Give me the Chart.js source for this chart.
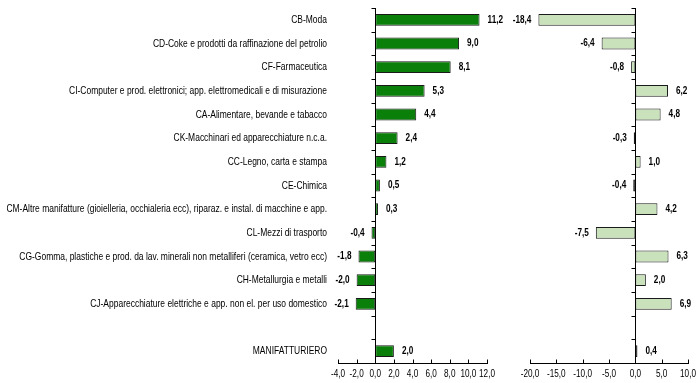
<!DOCTYPE html>
<html><head><meta charset="utf-8">
<script src="https://cdn.jsdelivr.net/npm/chart.js@4/dist/chart.umd.min.js"></script>
<style>
html,body{margin:0;padding:0;background:#fff;}
#wrap{position:relative;width:700px;height:383px;overflow:hidden;}
#c1{position:absolute;left:0;top:0;width:520px;height:383px;}
#c2{position:absolute;left:500px;top:0;width:200px;height:383px;}
</style></head><body>
<div id="wrap"><canvas id="c1" width="520" height="383"></canvas><canvas id="c2" width="200" height="383"></canvas></div>
<script>
const categories = [
  "CB-Moda",
  "CD-Coke e prodotti da raffinazione del petrolio",
  "CF-Farmaceutica",
  "CI-Computer e prod. elettronici; app. elettromedicali e di misurazione",
  "CA-Alimentare, bevande e tabacco",
  "CK-Macchinari ed apparecchiature n.c.a.",
  "CC-Legno, carta e stampa",
  "CE-Chimica",
  "CM-Altre manifatture (gioielleria, occhialeria ecc), riparaz. e instal. di macchine e app.",
  "CL-Mezzi di trasporto",
  "CG-Gomma, plastiche e prod. da lav. minerali non metalliferi (ceramica, vetro ecc)",
  "CH-Metallurgia e metalli",
  "CJ-Apparecchiature elettriche e app. non el. per uso domestico",
  "",
  "MANIFATTURIERO"
];
const valuesLeft = [11.2, 9.0, 8.1, 5.3, 4.4, 2.4, 1.2, 0.5, 0.3, -0.4, -1.8, -2.0, -2.1, null, 2.0];
const valuesRight = [-18.4, -6.4, -0.8, 6.2, 4.8, -0.3, 1.0, -0.4, 4.2, -7.5, 6.3, 2.0, 6.9, null, 0.4];
const ticksLeft = [-4, -2, 0, 2, 4, 6, 8, 10, 12];
const ticksRight = [-20, -15, -10, -5, 0, 5, 10];

const FONT = "'Liberation Sans', Arial, sans-serif";
const fmt = v => v.toFixed(1).replace('.', ',');

function narrowText(ctx, text, x, y, align, font, sx) {
  ctx.save();
  ctx.font = font;
  ctx.textBaseline = 'middle';
  ctx.textAlign = align;
  ctx.translate(x, y);
  ctx.scale(sx, 1);
  ctx.fillText(text, 0, 0);
  ctx.restore();
}

const axisPlugin = {
  id: 'axisPlugin',
  afterDatasetsDraw(chart, args, opts) {
    const {ctx, chartArea, scales} = chart;
    const x = scales.x, y = scales.y;
    const x0 = Math.round(x.getPixelForValue(0)) + 0.5;
    const n = chart.data.labels.length;
    const half = (y.getPixelForValue(1) - y.getPixelForValue(0)) / 2;
    ctx.save();
    ctx.strokeStyle = '#000';
    ctx.lineWidth = 1;
    ctx.beginPath();
    ctx.moveTo(x0, chartArea.top);
    ctx.lineTo(x0, chartArea.bottom);
    for (let i = 0; i <= n; i++) {
      const py = Math.round(y.getPixelForValue(i) - half) + 0.5;
      ctx.moveTo(x0 - 4, py);
      ctx.lineTo(x0, py);
    }
    const yb = Math.round(chartArea.bottom) + 0.5;
    ctx.moveTo(Math.round(x.getPixelForValue(x.min)), yb);
    ctx.lineTo(Math.round(x.getPixelForValue(x.max)) + 1, yb);
    x.ticks.forEach(t => {
      const px = Math.round(x.getPixelForValue(t.value)) + 0.5;
      ctx.moveTo(px, yb);
      ctx.lineTo(px, yb - 4);
    });
    ctx.stroke();
    ctx.fillStyle = '#000';
    // x tick labels
    x.ticks.forEach(t => {
      narrowText(ctx, fmt(t.value), x.getPixelForValue(t.value), chartArea.bottom + 11, 'center', "10.5px " + FONT, 0.78);
    });
    // category labels
    if (opts.showLabels) {
      chart.data.labels.forEach((lab, i) => {
        if (lab) narrowText(ctx, lab, chartArea.left - 11, y.getPixelForValue(i), 'right', "11px " + FONT, 0.77);
      });
    }
    // value labels
    const meta = chart.getDatasetMeta(0);
    const data = chart.data.datasets[0].data;
    meta.data.forEach((bar, i) => {
      const v = data[i];
      if (v === null || v === undefined) return;
      if (v >= 0) narrowText(ctx, fmt(v), bar.x + 8, bar.y, 'left', "bold 10.5px " + FONT, 0.78);
      else narrowText(ctx, fmt(v), bar.x - 7, bar.y, 'right', "bold 10.5px " + FONT, 0.78);
    });
    ctx.restore();
  }
};

function makeChart(id, values, ticks, color, showLabels, padding) {
  return new Chart(document.getElementById(id), {
    type: 'bar',
    data: {
      labels: categories,
      datasets: [{
        data: values,
        backgroundColor: color,
        borderColor: '#1a1a1a',
        borderWidth: 1,
        borderSkipped: false,
        barPercentage: 0.5,
        categoryPercentage: 1.0
      }]
    },
    options: {
      indexAxis: 'y',
      responsive: false,
      animation: false,
      events: [],
      layout: { padding: padding },
      plugins: {
        legend: { display: false },
        tooltip: { enabled: false },
        axisPlugin: { showLabels: showLabels }
      },
      scales: {
        x: {
          type: 'linear',
          min: ticks[0],
          max: ticks[ticks.length - 1],
          afterBuildTicks: s => { s.ticks = ticks.map(v => ({ value: v })); },
          afterFit: s => { s.height = 20; },
          grid: { display: false, drawTicks: false },
          border: { display: false },
          ticks: { display: false }
        },
        y: {
          display: false
        }
      }
    },
    plugins: [axisPlugin]
  });
}

makeChart('c1', valuesLeft, ticksLeft, '#0a800a', true, { top: 8, right: 33, left: 338, bottom: 0 });
makeChart('c2', valuesRight, ticksRight, '#c9e2bb', false, { top: 8, right: 12, left: 30, bottom: 0 });
</script>
</body></html>
